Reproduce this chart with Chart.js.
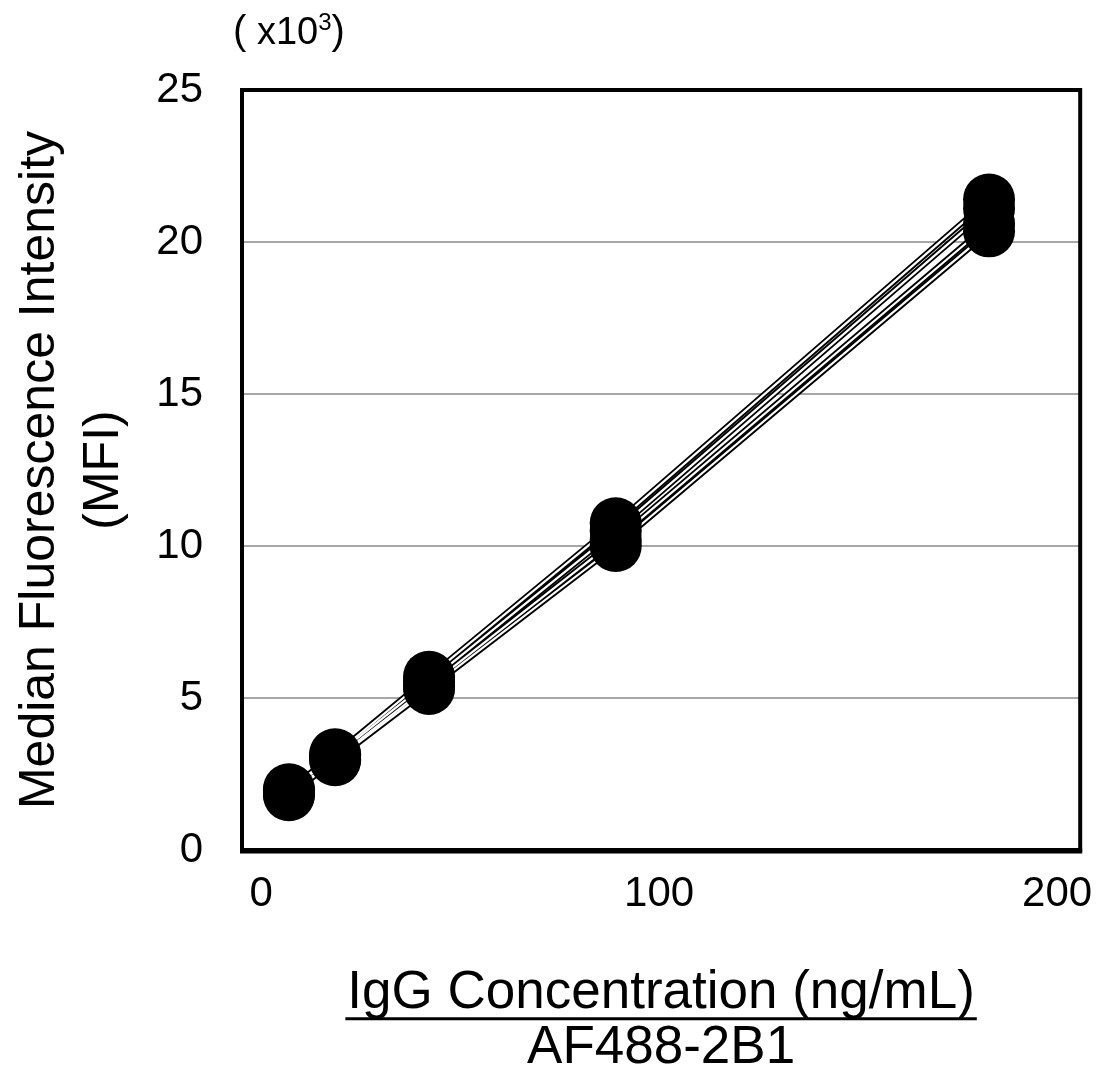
<!DOCTYPE html>
<html>
<head>
<meta charset="utf-8">
<script src="https://cdn.jsdelivr.net/npm/chart.js@4.4.0/dist/chart.umd.min.js"></script>
<style>
  html, body { margin: 0; padding: 0; background: #fff; }
  #wrap { width: 1112px; height: 1078px; }
</style>
</head>
<body>
<div id="wrap"><canvas id="mfi-chart" width="1112" height="1078"></canvas></div>
<script>
// IgG concentration (ng/mL)
const concentrations = [7.0, 18.6, 42.2, 89.1, 182.9];

// MFI (x10^3), one array per replicate
const replicateA = [2.0, 3.15, 5.7, 10.75, 21.4];
const replicateB = [1.95, 3.1, 5.55, 10.5, 21.1];
const replicateC = [1.85, 3.0, 5.4, 10.2, 20.6];
const replicateD = [1.8, 2.95, 5.3, 10.0, 20.35];

const xTicks = [0, 100, 200];
const yTicks = [0, 5, 10, 15, 20, 25];

const xTitle = ['IgG Concentration (ng/mL)', 'AF488-2B1'];
const yTitle = ['Median Fluorescence Intensity', '(MFI)'];

const FONT = "'Liberation Sans', Arial, sans-serif";

const replicates = [replicateA, replicateB, replicateC, replicateD];

function toPoints(values) {
  return values.map((v, i) => ({ x: concentrations[i], y: v }));
}

// Excel-style outlined lines: black wide stroke, white thin stroke on top, then markers
const datasets = [];
replicates.forEach((values) => {
  datasets.push({
    data: toPoints(values),
    borderColor: '#000',
    borderWidth: 6,
    pointRadius: 0,
    fill: false,
    tension: 0,
    order: 30,
  });
  datasets.push({
    data: toPoints(values),
    borderColor: '#fff',
    borderWidth: 2.2,
    pointRadius: 0,
    fill: false,
    tension: 0,
    order: 20,
  });
  datasets.push({
    data: toPoints(values),
    showLine: false,
    pointRadius: 26,
    pointBackgroundColor: '#000',
    pointBorderWidth: 0,
    order: 10,
  });
});

// Box around the plot area
const framePlugin = {
  id: 'frame',
  afterDatasetsDraw(chart) {
    const { ctx, chartArea: a } = chart;
    ctx.save();
    ctx.strokeStyle = '#000';
    ctx.lineWidth = 4;
    ctx.strokeRect(a.left, a.top, a.right - a.left, a.bottom - a.top);
    ctx.lineWidth = 5;
    ctx.beginPath();
    ctx.moveTo(a.left - 2, a.bottom + 1);
    ctx.lineTo(a.right + 2, a.bottom + 1);
    ctx.stroke();
    ctx.restore();
  },
};

// "( x10³)" unit note and underline of the x title
const notesPlugin = {
  id: 'notes',
  afterDraw(chart) {
    const { ctx } = chart;
    ctx.save();
    ctx.fillStyle = '#000';
    ctx.textAlign = 'left';
    ctx.textBaseline = 'alphabetic';
    let x = 233;
    const base = 44;
    [['(', 40, 0], [' x10', 38, 0], ['3', 24, -14], [')', 40, 0]].forEach(([t, size, dy]) => {
      ctx.font = `${size}px ${FONT}`;
      ctx.fillText(t, x, base + dy);
      x += ctx.measureText(t).width;
    });

    const xs = chart.scales.x;
    ctx.font = `53px ${FONT}`;
    const w = ctx.measureText(xTitle[0]).width;
    const cx = (xs.left + xs.right) / 2;
    const lh = 53 * 1.04;
    const y = xs.bottom - 2 - lh - lh / 2 + 18.4 + 7;
    ctx.strokeStyle = '#000';
    ctx.lineWidth = 3;
    ctx.beginPath();
    ctx.moveTo(cx - w / 2 - 2, y);
    ctx.lineTo(cx + w / 2 + 2, y);
    ctx.stroke();
    ctx.restore();
  },
};

const ctx = document.getElementById('mfi-chart');
// eslint-disable-next-line no-new
new Chart(ctx, {
  type: 'line',
  data: { datasets },
  plugins: [framePlugin, notesPlugin],
  options: {
    responsive: false,
    animation: false,
    events: [],
    layout: {
      padding: { top: 90, right: 31, bottom: 0, left: 0 },
    },
    plugins: {
      legend: { display: false },
      tooltip: { enabled: false },
      title: { display: false },
    },
    scales: {
      x: {
        type: 'linear',
        min: -4.8,
        max: 205.8,
        afterFit(scale) {
          scale.height = 228;
        },
        afterBuildTicks(scale) {
          scale.ticks = xTicks.map((v) => ({ value: v }));
        },
        grid: { display: false, drawTicks: false },
        border: { display: false },
        ticks: {
          color: '#000',
          padding: 19,
          maxRotation: 0,
          font: { family: FONT, size: 42 },
        },
        title: {
          display: true,
          text: xTitle,
          color: '#000',
          padding: { top: 0, bottom: 2 },
          font: { family: FONT, size: 53, lineHeight: 1.04 },
        },
      },
      y: {
        type: 'linear',
        min: 0,
        max: 25,
        afterFit(scale) {
          scale.width = 242;
        },
        afterBuildTicks(scale) {
          scale.ticks = yTicks.map((v) => ({ value: v }));
        },
        grid: {
          color: '#a6a6a6',
          lineWidth: 2,
          drawTicks: false,
        },
        border: { display: false },
        ticks: {
          color: '#000',
          padding: 39,
          font: { family: FONT, size: 42 },
        },
        title: {
          display: true,
          text: yTitle,
          color: '#000',
          padding: { top: 8, bottom: 0 },
          font: { family: FONT, size: 50, lineHeight: 1.28 },
        },
      },
    },
  },
});
</script>
</body>
</html>
